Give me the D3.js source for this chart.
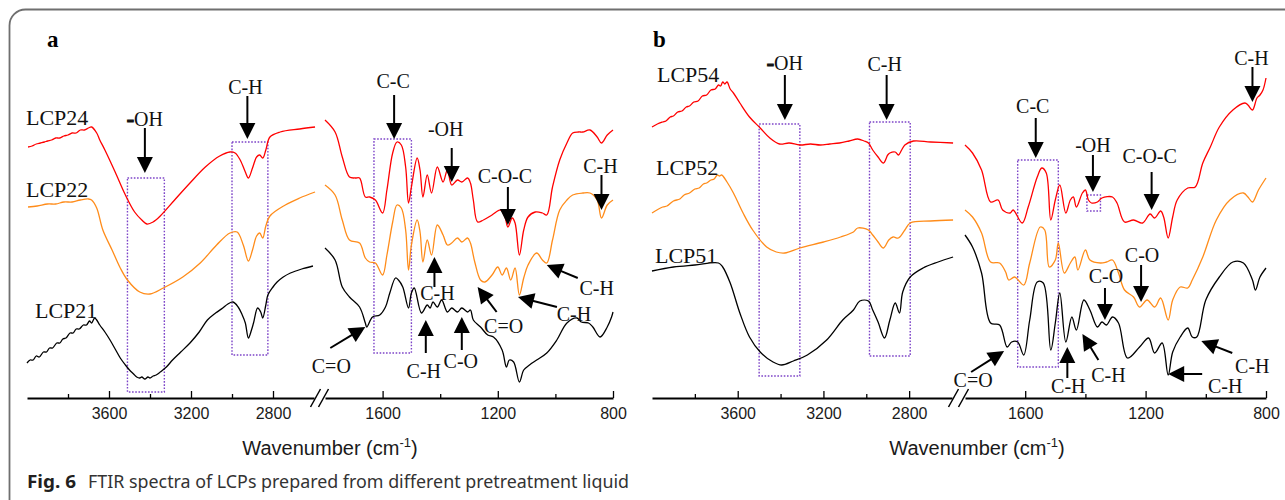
<!DOCTYPE html>
<html>
<head>
<meta charset="utf-8">
<script src="https://cdn.jsdelivr.net/npm/d3@7"></script>
<style>
  body { margin: 0; background: #fff; }
  svg { display: block; }
</style>
</head>
<body>
<div id="chart"></div>
<script>
// ---- data: [wavenumber (cm-1), transmittance (a.u., offset per curve)] ----
// panel a, high wavenumber part (4000-2600)
const LCP24_HIGH = [[3995,253],[3975,254],[3955,256],[3935,257],[3915,258],[3900,259],[3880,260],[3860,262],[3840,262],[3820,264],[3800,265],[3780,267],[3760,267],[3740,270],[3720,270],[3700,272],[3685,273],[3660,267],[3645,260],[3620,250],[3570,228],[3520,205],[3475,188],[3440,180],[3415,176],[3385,178],[3350,184],[3280,200],[3205,217],[3130,233],[3060,244],[3010,248],[2985,247],[2960,240],[2935,228],[2920,222],[2900,232],[2880,243],[2865,245],[2850,242],[2835,250],[2815,263],[2765,268],[2670,271],[2595,273]];
const LCP22_HIGH = [[3995,193],[3950,194],[3900,196],[3860,196],[3820,198],[3780,198],[3740,200],[3700,201],[3685,200],[3660,192],[3630,170],[3585,150],[3545,132],[3510,120],[3450,108],[3400,106],[3335,112],[3240,123],[3155,137],[3075,155],[3010,167],[2975,168],[2945,155],[2920,139],[2900,150],[2880,164],[2865,167],[2850,162],[2835,174],[2815,184],[2740,195],[2670,202],[2595,208]];
const LCP21_HIGH = [[4000,37],[3985,40],[3970,40],[3955,44],[3940,43],[3920,48],[3905,48],[3890,52],[3875,52],[3855,57],[3840,57],[3825,61],[3810,62],[3790,67],[3775,67],[3760,71],[3745,71],[3725,75],[3710,75],[3695,79],[3685,77],[3670,82],[3660,80],[3645,75],[3620,68],[3595,60],[3570,51],[3545,42],[3520,35],[3500,30],[3480,26],[3465,23],[3450,22],[3440,23],[3425,21],[3410,23],[3400,22],[3385,24],[3370,25],[3350,28],[3320,33],[3290,40],[3250,48],[3205,57],[3160,68],[3120,80],[3080,87],[3045,92],[3020,96],[2995,98],[2970,93],[2950,85],[2935,77],[2920,62],[2905,70],[2895,77],[2875,92],[2860,88],[2850,82],[2835,95],[2825,105],[2800,113],[2780,118],[2750,123],[2715,127],[2660,131],[2605,134]];
// panel a, fingerprint part (1800-800)
const LCP24_FP = [[1800,280],[1765,268],[1740,243],[1715,223],[1695,222],[1680,222],[1660,203],[1645,203],[1625,200],[1600,187],[1585,210],[1565,247],[1550,258],[1535,255],[1520,233],[1510,197],[1500,213],[1480,242],[1470,230],[1460,203],[1445,225],[1430,207],[1410,233],[1390,218],[1375,230],[1360,215],[1340,220],[1325,218],[1305,222],[1295,217],[1285,200],[1270,178],[1250,180],[1220,185],[1190,190],[1175,183],[1165,173],[1150,182],[1140,177],[1125,145],[1110,170],[1095,183],[1070,188],[1045,187],[1030,185],[1010,213],[985,240],[960,257],[940,267],[920,268],[905,268],[880,270],[855,263],[840,257],[820,265],[800,270]];
const LCP22_FP = [[1800,215],[1765,205],[1740,180],[1715,160],[1680,157],[1660,142],[1645,138],[1625,137],[1600,125],[1585,145],[1565,178],[1550,195],[1535,192],[1520,170],[1510,130],[1500,155],[1480,180],[1470,168],[1460,138],[1445,160],[1430,145],[1410,175],[1390,165],[1375,155],[1360,157],[1340,162],[1325,158],[1305,162],[1295,157],[1280,138],[1260,120],[1245,118],[1220,125],[1200,133],[1185,125],[1170,132],[1155,120],[1140,132],[1125,105],[1110,122],[1095,135],[1065,147],[1045,140],[1030,137],[1010,160],[985,190],[960,200],[940,205],[905,207],[880,207],[855,200],[840,182],[820,195],[800,200]];
const LCP21_FP = [[1800,152],[1765,140],[1740,113],[1715,103],[1680,93],[1660,77],[1655,73],[1635,83],[1610,85],[1590,93],[1575,107],[1555,122],[1545,120],[1530,113],[1510,92],[1500,107],[1490,112],[1465,87],[1445,95],[1435,92],[1425,98],[1410,93],[1395,100],[1375,88],[1360,92],[1340,88],[1325,92],[1305,88],[1295,90],[1285,80],[1260,73],[1235,65],[1215,63],[1185,50],[1170,33],[1160,40],[1145,38],[1125,18],[1110,30],[1090,35],[1065,40],[1030,47],[995,60],[960,77],[925,82],[910,78],[885,77],[870,73],[845,63],[820,73],[805,83],[800,88]];

// panel b
const LCP54_HIGH = [[4000,273],[3975,276],[3950,278],[3935,279],[3915,283],[3900,284],[3880,288],[3860,289],[3840,293],[3825,294],[3805,298],[3785,299],[3765,304],[3745,305],[3725,310],[3705,311],[3690,315],[3680,314],[3670,318],[3660,316],[3650,318],[3635,311],[3620,307],[3590,297],[3545,283],[3495,272],[3450,262],[3405,256],[3360,257],[3310,255],[3260,256],[3215,255],[3170,256],[3125,257],[3080,259],[3040,261],[3010,259],[2990,257],[2970,250],[2945,243],[2920,237],[2900,245],[2890,247],[2865,248],[2850,245],[2835,250],[2820,255],[2780,259],[2700,258],[2595,257]];
const LCP52_HIGH = [[4000,187],[3950,193],[3930,194],[3900,199],[3870,201],[3850,205],[3825,207],[3800,211],[3780,212],[3760,216],[3745,217],[3725,220],[3710,221],[3695,225],[3685,224],[3675,225],[3650,218],[3620,207],[3575,187],[3530,170],[3465,153],[3420,148],[3380,147],[3310,152],[3200,158],[3120,163],[3060,168],[3040,172],[2990,170],[2970,165],[2945,158],[2920,152],[2895,160],[2875,163],[2850,162],[2820,170],[2795,177],[2700,179],[2595,180]];
const LCP51_HIGH = [[4000,129],[3900,133],[3800,135],[3690,137],[3670,133],[3635,117],[3590,87],[3545,63],[3495,48],[3435,38],[3395,35],[3340,39],[3275,45],[3185,60],[3110,80],[3060,90],[3030,99],[2990,99],[2970,90],[2945,78],[2915,62],[2890,80],[2865,97],[2845,87],[2830,108],[2795,123],[2735,132],[2665,138],[2595,143]];
const LCP54_FP = [[1800,255],[1775,247],[1745,230],[1715,198],[1690,200],[1675,190],[1650,187],[1640,190],[1610,177],[1590,193],[1560,223],[1545,232],[1530,227],[1515,180],[1500,200],[1485,215],[1465,187],[1450,200],[1440,203],[1430,193],[1410,207],[1400,210],[1390,200],[1380,197],[1360,198],[1345,202],[1310,203],[1295,197],[1270,178],[1240,180],[1210,177],[1185,186],[1170,182],[1150,189],[1140,183],[1125,162],[1110,183],[1095,200],[1060,212],[1035,213],[1010,237],[985,253],[955,273],[910,290],[870,297],[860,295],[845,290],[830,302],[820,305],[810,310],[800,322]];
const LCP52_FP = [[1800,190],[1775,183],[1745,167],[1715,138],[1685,137],[1665,128],[1655,120],[1635,123],[1605,115],[1585,137],[1550,173],[1535,170],[1520,133],[1500,140],[1490,157],[1470,127],[1450,137],[1435,143],[1425,130],[1400,150],[1385,140],[1350,137],[1330,138],[1310,140],[1290,127],[1270,110],[1240,103],[1220,93],[1195,100],[1170,93],[1150,102],[1125,80],[1110,100],[1085,113],[1060,112],[1045,120],[1010,143],[965,180],[920,200],[875,207],[860,203],[845,198],[825,210],[800,222]];
const LCP51_FP = [[1800,165],[1775,153],[1745,127],[1715,77],[1685,75],[1660,53],[1645,58],[1625,58],[1605,45],[1585,80],[1560,118],[1540,117],[1515,50],[1500,77],[1485,107],[1465,58],[1445,83],[1430,70],[1405,100],[1385,90],[1360,73],[1345,78],[1330,75],[1310,83],[1290,77],[1260,42],[1220,53],[1190,62],[1170,47],[1145,57],[1125,25],[1110,48],[1085,63],[1060,72],[1045,63],[1030,63],[1000,100],[955,123],[910,138],[875,137],[845,120],[835,110],[820,123],[800,132]];

// tick labels
const MAJOR_HIGH = [3600, 3200, 2800];
const MINOR_HIGH = [3800, 3400, 3000];
const MAJOR_LOW = [1600, 1200, 800];
const MINOR_LOW = [1400, 1000];

// band annotations: label, tip at [wavenumber, value]
const BANDS_A = [
  {t: "-OH", wn: 3425, v: 227}, {t: "C-H", wn: 2925, v: 261}, {t: "C-C", wn: 1560, v: 261},
  {t: "-OH", wn: 1360, v: 218}, {t: "C-O-C", wn: 1165, v: 175}, {t: "C-H", wn: 840, v: 190},
  {t: "C-H", wn: 1420, v: 143}, {t: "C=O", wn: 1660, v: 73}, {t: "C-H", wn: 1450, v: 80},
  {t: "C-O", wn: 1325, v: 83}, {t: "C=O", wn: 1270, v: 113}, {t: "C-H", wn: 1130, v: 103},
  {t: "C-H", wn: 1030, v: 135}
];
const BANDS_B = [
  {t: "-OH", wn: 3380, v: 280}, {t: "C-H", wn: 2905, v: 280}, {t: "C-C", wn: 1565, v: 242},
  {t: "-OH", wn: 1375, v: 208}, {t: "C-O-C", wn: 1180, v: 190}, {t: "C-H", wn: 845, v: 298},
  {t: "C-O", wn: 1215, v: 98}, {t: "C-O", wn: 1335, v: 80}, {t: "C=O", wn: 1670, v: 49},
  {t: "C-H", wn: 1460, v: 53}, {t: "C-H", wn: 1410, v: 66}, {t: "C-H", wn: 1125, v: 26},
  {t: "C-H", wn: 1015, v: 59}
];
// dotted boxes: [wn from, wn to], [value bottom, value top]
const BOXES_A = [[[3510, 3330], [8, 222]], [[3000, 2825], [45, 258]], [[1630, 1500], [47, 261]]];
const BOXES_B = [[[3500, 3310], [24, 276]], [[2985, 2795], [44, 278]], [[1625, 1490], [33, 240]], [[1395, 1350], [189, 205]]];

// layout of the annotations (tail offset and label offset from the tip, in px)
const LAYOUT_A = [
  [[0,-45],[0,-47], true], [[0,-43],[-2,-45]], [[0,-44],[-1,-51]],
  [[0,-34],[-6,-46]], [[0,-38],[-3,-42]], [[0,-35],[-1,-37]],
  [[0,30],[3,43]], [[-35,21],[-34,46]], [[0,33],[-2,58]],
  [[0,33],[-1,51]], [[19,25],[26,46]], [[39,10],[56,24]],
  [[31,13],[50,30]]
];
const LAYOUT_B = [
  [[0,-45],[0,-50], true], [[0,-45],[-2,-49]], [[0,-40],[-3,-45]],
  [[0,-37],[0,-40]], [[0,-38],[-2,-47]], [[0,-35],[-1,-37]],
  [[0,-37],[1,-40]], [[0,-32],[1,-37]], [[-33,21],[-31,36]],
  [[0,31],[1,46]], [[16,26],[26,48]], [[34,0],[57,19]],
  [[31,12],[51,32]]
];

const COLORS = ["#ff0000", "#ff8c1a", "#000000"];
const SERIF = "'Liberation Serif', 'Times New Roman', serif";
const SANS = "'Liberation Sans', Arial, sans-serif";
const AXIS_Y = 398;

const PANELS = [
  {tag: "a", tagX: 47, high: [27, 314], low: [325, 613], xlabel: 330,
   names: ["LCP24", "LCP22", "LCP21"], nameXY: [[26,125],[26,197],[35,318]],
   series: [[LCP24_HIGH, LCP24_FP], [LCP22_HIGH, LCP22_FP], [LCP21_HIGH, LCP21_FP]],
   bands: BANDS_A, layout: LAYOUT_A, boxes: BOXES_A},
  {tag: "b", tagX: 653, high: [652, 952], low: [965, 1266], xlabel: 977,
   names: ["LCP54", "LCP52", "LCP51"], nameXY: [[657,82],[656,175],[655,263]],
   series: [[LCP54_HIGH, LCP54_FP], [LCP52_HIGH, LCP52_FP], [LCP51_HIGH, LCP51_FP]],
   bands: BANDS_B, layout: LAYOUT_B, boxes: BOXES_B}
];

const svg = d3.select("#chart").append("svg")
  .attr("width", 1285)
  .attr("height", 500);

// outer frame of the figure
svg.append("rect")
  .attr("x", 9.5).attr("y", 9.5)
  .attr("width", 1400).attr("height", 600)
  .attr("rx", 16)
  .attr("fill", "none")
  .attr("stroke", "#6f6f6f")
  .attr("stroke-width", 1.8);

const Y = d3.scaleLinear().domain([0, 400]).range([400, 0]);

function drawArrow(g, tip, tail) {
  const dx = tip[0] - tail[0], dy = tip[1] - tail[1];
  const len = Math.hypot(dx, dy);
  const ux = dx / len, uy = dy / len;
  const L = 16, W = 8;
  const bx = tip[0] - ux * L, by = tip[1] - uy * L;
  g.append("line")
    .attr("x1", tail[0]).attr("y1", tail[1])
    .attr("x2", bx + ux).attr("y2", by + uy)
    .attr("stroke", "#000").attr("stroke-width", 2);
  g.append("path")
    .attr("d", `M${tip[0]},${tip[1]}L${bx - uy * W},${by + ux * W}L${bx + uy * W},${by - ux * W}Z`)
    .attr("fill", "#000");
}

function drawPanel(p) {
  const xHigh = d3.scaleLinear().domain([4000, 2600]).range(p.high);
  const xLow = d3.scaleLinear().domain([1800, 800]).range(p.low);
  const xOf = (wn) => wn > 2000 ? xHigh(wn) : xLow(wn);
  const g = svg.append("g");

  // panel letter
  g.append("text")
    .attr("x", p.tagX).attr("y", 47)
    .attr("font-family", SERIF).attr("font-weight", 700).attr("font-size", 23)
    .text(p.tag);

  // dotted boxes
  p.boxes.forEach((b) => {
    const x0 = xOf(b[0][0]), x1 = xOf(b[0][1]);
    const y0 = Y(b[1][1]), y1 = Y(b[1][0]);
    g.append("rect")
      .attr("x", x0).attr("y", y0)
      .attr("width", x1 - x0).attr("height", y1 - y0)
      .attr("fill", "none")
      .attr("stroke", "#7d44c8")
      .attr("stroke-width", 1.4)
      .attr("stroke-dasharray", "1.6,1.6");
  });

  // spectra
  const line = d3.line()
    .x((d) => xOf(d[0]))
    .y((d) => Y(d[1]))
    .curve(d3.curveCatmullRom.alpha(0.5));
  p.series.forEach((pair, i) => {
    pair.forEach((part) => {
      g.append("path")
        .datum(part)
        .attr("d", line)
        .attr("fill", "none")
        .attr("stroke", COLORS[i])
        .attr("stroke-width", 1.3);
    });
    g.append("text")
      .attr("x", p.nameXY[i][0]).attr("y", p.nameXY[i][1])
      .attr("font-family", SERIF).attr("font-size", 22)
      .attr("fill", "#111")
      .text(p.names[i]);
  });

  // annotations
  p.bands.forEach((b, i) => {
    const lay = p.layout[i];
    const tip = [xOf(b.wn), Y(b.v)];
    drawArrow(g, tip, [tip[0] + lay[0][0], tip[1] + lay[0][1]]);
    const txt = g.append("text")
      .attr("x", tip[0] + lay[1][0]).attr("y", tip[1] + lay[1][1])
      .attr("text-anchor", "middle")
      .attr("font-family", SERIF).attr("font-size", 20)
      .attr("fill", "#111");
    if (lay[2]) {
      // heavy dash in front of OH
      txt.append("tspan").attr("font-weight", 700).attr("font-size", 22)
        .attr("stroke", "#111").attr("stroke-width", 1.2).text("-");
      txt.append("tspan").text(b.t.slice(1));
    } else {
      txt.text(b.t);
    }
  });

  // broken x axis
  const ax = g.append("g").attr("transform", "translate(0," + AXIS_Y + ")");
  [[xHigh, MAJOR_HIGH, MINOR_HIGH], [xLow, MAJOR_LOW, MINOR_LOW]].forEach(([sc, major, minor]) => {
    ax.append("g")
      .call(d3.axisBottom(sc).tickValues(minor).tickSizeInner(-4).tickSizeOuter(0).tickFormat(""))
      .call((s) => s.select(".domain").remove());
    ax.append("g")
      .call(d3.axisBottom(sc).tickValues(major).tickSizeInner(-7).tickSizeOuter(0)
        .tickPadding(10).tickFormat(d3.format("d")))
      .attr("font-family", SANS)
      .attr("font-size", 16);
  });
  ax.selectAll(".domain").attr("stroke-width", 2);
  ax.selectAll(".tick line").attr("stroke-width", 1.3);
  ax.selectAll(".tick text").attr("fill", "#1a1a1a");

  // break marks
  [p.high[1] + 1.5, p.low[0] - 1.5].forEach((c) => {
    ax.append("line")
      .attr("x1", c - 5).attr("y1", 9)
      .attr("x2", c + 5).attr("y2", -9)
      .attr("stroke", "#000").attr("stroke-width", 1.5);
  });

  // axis title
  const xt = g.append("text")
    .attr("x", p.xlabel).attr("y", 455)
    .attr("text-anchor", "middle")
    .attr("font-family", SANS).attr("font-size", 20)
    .attr("fill", "#1a1a1a");
  xt.append("tspan").text("Wavenumber (cm");
  xt.append("tspan").attr("font-size", 13).attr("dy", -8).text("-1");
  xt.append("tspan").attr("dy", 8).text(")");
}

PANELS.forEach(drawPanel);

// caption
svg.append("text")
  .attr("x", 27).attr("y", 488)
  .attr("font-family", "'Noto Sans', 'Open Sans', sans-serif")
  .attr("font-weight", 700).attr("font-size", 18)
  .attr("fill", "#231f20")
  .attr("textLength", 49).attr("lengthAdjust", "spacingAndGlyphs")
  .text("Fig. 6");
svg.append("text")
  .attr("x", 88).attr("y", 488)
  .attr("font-family", "'Noto Sans', 'Open Sans', sans-serif")
  .attr("font-size", 18)
  .attr("fill", "#333")
  .attr("textLength", 541).attr("lengthAdjust", "spacingAndGlyphs")
  .text("FTIR spectra of LCPs prepared from different pretreatment liquid");
</script>
</body>
</html>
